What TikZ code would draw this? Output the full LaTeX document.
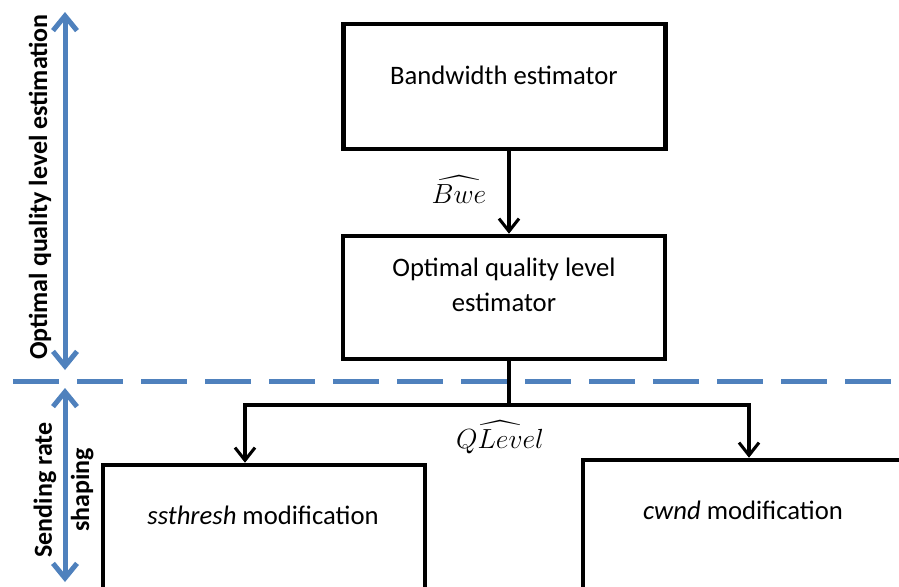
\documentclass[tikz,border=0pt]{standalone}
\usepackage{amsmath}
\usepackage{fontspec}
\setmainfont{Carlito}
\usepackage{xcolor}
\usepackage{tikz}
\usetikzlibrary{
  arrows.meta,
  positioning
}
\definecolor{officeblue}{RGB}{79,129,189}
\tikzset{
  pxgrid/.style={ x=0.75pt, y=-0.75pt },
  stagebox/.style={
    draw=black,
    line width=3.4pt,
    minimum width=241.5pt,
    inner sep=0pt
  },
  boxlabel/.style={
    align=center,
    inner sep=0pt,
    font=\fontsize{20}{26}\selectfont
  },
  sidelabel/.style={
    rotate=90,
    align=center,
    inner sep=0pt,
    font=\fontsize{19.5}{28}\selectfont\bfseries
  },
  hatlabel/.style={
    inner sep=0pt,
    font=\fontsize{22}{26}\selectfont
  },
  flow/.style={
    -{Straight Barb[length=9.5pt,width=15pt]},
    line width=2.3pt
  },
  phasearrow/.style={
    {Straight Barb[length=11pt,width=18pt]}-{Straight Barb[length=11pt,width=18pt]},
    line width=3.75pt,
    draw=officeblue
  },
  divider/.style={
    line width=3.75pt,
    draw=officeblue,
    dash pattern=on 34.5pt off 13.5pt
  }
}

\begin{document}
\begin{tikzpicture}[pxgrid]
  \useasboundingbox (0,0) rectangle (899,586);
  \clip (0,0) rectangle (899,586);

  % estimation stage
  \node[stagebox, minimum height=93.75pt] (bwest) at (504.5,86.5) {};
  \node[boxlabel] (bwtxt) at (504,75) {Bandwidth estimator};
  \node[stagebox, minimum height=92.25pt] (qlest) at (504,297.5) {};
  \node[boxlabel] (qltxt) at (504,284.5) {Optimal quality level\\estimator};

  % shaping stage
  \node[stagebox, minimum height=105pt] (ssmod) at (264,535) {};
  \node[boxlabel] (sstxt) at (263,515) {\textit{ssthresh} modification};
  \node[stagebox, minimum height=105pt] (cwmod) at (744,530) {};
  \node[boxlabel] (cwtxt) at (743,510) {\textit{cwnd} modification};

  % connectors
  \coordinate (spine) at (509,0);
  \coordinate (fork) at (509,405);
  \coordinate (ssdrop) at (245,0);
  \coordinate (cwdrop) at (749,0);
  \draw[flow] (bwest.south -| spine) -- (qlest.north -| spine);
  \draw[line width=2.3pt] (qlest.south -| spine) -- (fork);
  \draw[flow] (fork) -| (ssmod.north -| ssdrop);
  \draw[flow] (fork) -| (cwmod.north -| cwdrop);
  \node[hatlabel] (bwehat) at (459,190) {$\widehat{Bwe}$};
  \node[hatlabel] (qlhat) at (500,437) {$\widehat{QLevel}$};

  % phase split
  \coordinate (cutL) at (13,381);
  \coordinate (cutR) at (899,381);
  \draw[divider] (cutL) -- (cutR);
  \coordinate (estTop) at (65,12);
  \coordinate (estBot) at (65,370);
  \coordinate (shpTop) at (65,388);
  \coordinate (shpBot) at (65,582);
  \draw[phasearrow] (estTop) -- (estBot);
  \draw[phasearrow] (shpTop) -- (shpBot);
  \node[sidelabel] (esttag) at (40,187) {Optimal quality level estimation};
  \node[sidelabel] (shptag) at (63.5,490) {Sending rate\\shaping};
\end{tikzpicture}
\end{document}
